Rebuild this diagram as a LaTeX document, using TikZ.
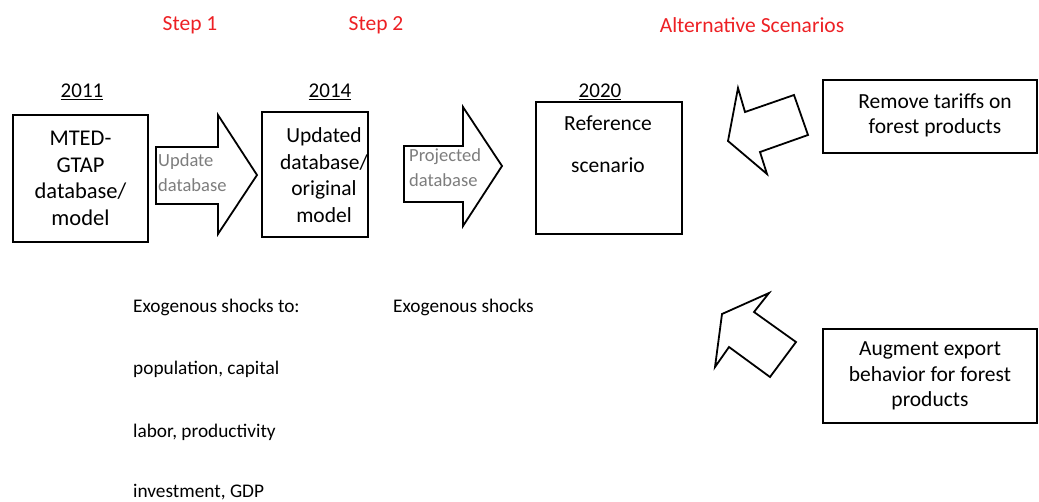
\documentclass[tikz,border=0pt]{standalone}
\usepackage{fontspec}
\setmainfont{Carlito}
\definecolor{stepred}{RGB}{237,32,36}
\definecolor{arrowtext}{RGB}{125,125,125}
\begin{document}
\begin{tikzpicture}[x=1pt,y=-1pt,
  box/.style={draw, line width=1.3pt, inner sep=0pt},
  boxtext/.style={font=\fontsize{22.5}{26.5}\selectfont, align=center},
  boxtextb/.style={font=\fontsize{21.5}{26.5}\selectfont, align=center},
  sidetext/.style={font=\fontsize{21.5}{25.5}\selectfont, align=center},
  steplabel/.style={font=\fontsize{21.5}{25}\selectfont, text=stepred},
  yearlabel/.style={font=\fontsize{21}{25}\selectfont},
  shocktext/.style={font=\fontsize{19.3}{23}\selectfont, anchor=base west, inner sep=0pt},
  arrowlabel/.style={font=\fontsize{18.5}{25}\selectfont, text=arrowtext, align=left, anchor=west, inner sep=0pt},
  blockarrow/.style={draw, line width=1.8pt, line join=miter, fill=white}]
\useasboundingbox (0,0) rectangle (1039,501);

% step headings
\node[steplabel] (s1) at (190,25) {Step 1};
\node[steplabel] (s2) at (376,25) {Step 2};
\node[steplabel] (s3) at (752,25) {Alternative Scenarios};

% years
\node[yearlabel] (y1) at (82,92) {\underline{2011}};
\node[yearlabel] (y2) at (330,92) {\underline{2014}};
\node[yearlabel] (y3) at (600,92) {\underline{2020}};

% block arrows (drawn first so boxes sit on top)
\draw[blockarrow] (156,147) -- (218,147) -- (218,115) -- (257,175) -- (218,234) -- (218,204) -- (156,204) -- cycle;
\draw[blockarrow] (404,146) -- (463,146) -- (463,107) -- (502,166) -- (463,226) -- (463,202) -- (404,202) -- cycle;
\node[arrowlabel] (a1) at (158,173) {Update\\database};
\node[arrowlabel] (a2) at (409,168) {Projected\\database};

% main boxes
\node[box, boxtext, minimum width=135, minimum height=127] (b1) at (80.5,178.5) {MTED-\\GTAP\\database/\\model};
\node[box, minimum width=106, minimum height=125] (b2) at (315,174.5) {};
\node[boxtextb] (b2t) at (324,175) {Updated\\database/\\original\\model};
\node[box, minimum width=146, minimum height=132] (b3) at (609,168) {};
\node[sidetext] (ref) at (608,123) {Reference};
\node[sidetext] (scen) at (608,165) {scenario};

% scenario boxes
\node[box, minimum width=214, minimum height=73] (r1) at (930,116.5) {};
\node[sidetext] (r1t) at (935,115.5) {Remove tariffs on\\forest products};
\node[box, sidetext, minimum width=214, minimum height=94] (r2) at (930,376) {Augment export\\behavior for forest\\products};

% bent arrows
\draw[blockarrow] (738,88) -- (745,112) -- (794,95) -- (808,135) -- (760,152) -- (767,174) -- (728,141) -- cycle;
\draw[blockarrow] (769,293) -- (754,312) -- (796,342) -- (770,377) -- (729,347) -- (715,367) -- (722,314) -- cycle;

% shocks
\node[shocktext] (e1) at (133,312) {Exogenous shocks to:};
\node[shocktext] (e2) at (133,374) {population, capital};
\node[shocktext] (e3) at (133,437) {labor, productivity};
\node[shocktext] (e4) at (133,497) {investment, GDP};
\node[shocktext] (e5) at (393,312) {Exogenous shocks};
\end{tikzpicture}
\end{document}
